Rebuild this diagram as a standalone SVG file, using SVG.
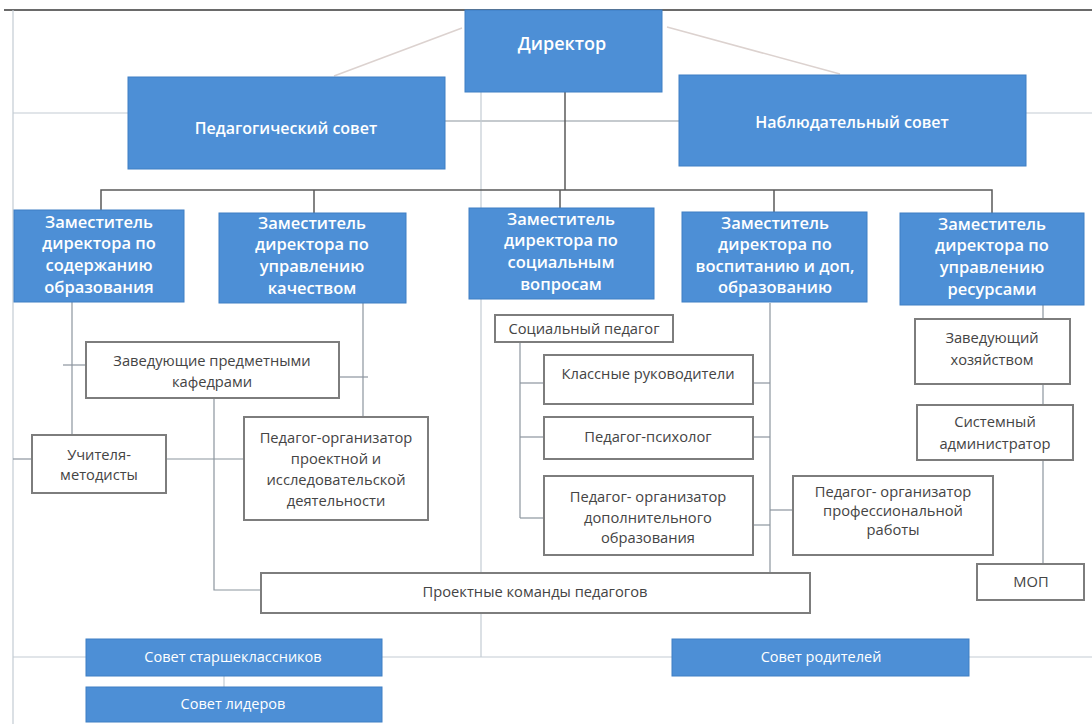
<svg xmlns="http://www.w3.org/2000/svg" width="1092" height="724" viewBox="0 0 1092 724">
<style>
.bg{fill:#ffffff}
.blue{fill:#4d8fd6;stroke:#3f7fc4;stroke-width:1}
.wbox{fill:#ffffff;stroke:#7d7d7d;stroke-width:2}
.tw{font-family:"Open Sans","Liberation Sans",sans-serif;fill:#ffffff;text-anchor:middle;font-weight:600}
.tn{font-family:"Open Sans","Liberation Sans",sans-serif;fill:#ffffff;text-anchor:middle;font-weight:400}
.tb{font-family:"Open Sans","Liberation Sans",sans-serif;fill:#444444;text-anchor:middle;font-size:14.7px}
.dk{stroke:#5a5a5a;stroke-width:1.5;fill:none}
.md{stroke:#8c959e;stroke-width:1.2;fill:none}
.lt{stroke:#c3cbd3;stroke-width:1.2;fill:none}
.pk{stroke:#dcd2cf;stroke-width:1.5;fill:none}
</style>
<rect class="bg" x="0" y="0" width="1092" height="724"/>
<g id="connectors">
<line x1="4" y1="10" x2="1092" y2="10" stroke="#6a6a6a" stroke-width="2"/>
<line class="lt" x1="13" y1="10" x2="13" y2="724"/>
<line class="pk" x1="462" y1="28" x2="334" y2="76"/>
<line class="pk" x1="667" y1="27" x2="840" y2="74"/>
<line class="lt" x1="13" y1="113" x2="128" y2="113"/>
<line class="md" x1="445" y1="121" x2="679" y2="121"/>
<line class="lt" x1="1026" y1="113" x2="1092" y2="113"/>
<line class="dk" x1="565" y1="92" x2="565" y2="190"/>
<line class="lt" x1="481" y1="92" x2="481" y2="657"/>
<polyline class="dk" points="101,210 101,190 992,190 992,213"/>
<line class="dk" x1="314" y1="190" x2="314" y2="213"/>
<line class="dk" x1="560" y1="190" x2="560" y2="208"/>
<line class="dk" x1="774" y1="190" x2="774" y2="212"/>
<line class="md" x1="72" y1="302" x2="72" y2="435"/>
<line class="md" x1="63" y1="365" x2="86" y2="365"/>
<line class="md" x1="363" y1="303" x2="363" y2="417"/>
<line class="md" x1="339" y1="377" x2="368" y2="377"/>
<polyline class="md" points="214,398 214,590 261,590"/>
<line class="md" x1="13" y1="459" x2="32" y2="459"/>
<line class="md" x1="166" y1="459" x2="244" y2="459"/>
<line class="md" x1="520" y1="342" x2="520" y2="518"/>
<line class="md" x1="520" y1="383" x2="544" y2="383"/>
<line class="md" x1="520" y1="437" x2="544" y2="437"/>
<line class="md" x1="520" y1="518" x2="544" y2="518"/>
<line class="md" x1="770" y1="303" x2="770" y2="573"/>
<line class="md" x1="753" y1="383" x2="770" y2="383"/>
<line class="md" x1="753" y1="437" x2="770" y2="437"/>
<line class="md" x1="753" y1="525" x2="770" y2="525"/>
<line class="md" x1="770" y1="510" x2="793" y2="510"/>
<line class="md" x1="1043" y1="305" x2="1043" y2="564"/>
<line class="lt" x1="13" y1="657" x2="1092" y2="657"/>
<line class="lt" x1="224" y1="676" x2="224" y2="687"/>
</g>
<g id="director">
<rect class="blue" x="465" y="10" width="197" height="82"/>
<text class="tw" x="562" y="50" font-size="18">Директор</text>
</g>
<g id="ped-sovet">
<rect class="blue" x="128" y="77" width="317" height="92"/>
<text class="tw" x="286" y="134" font-size="16">Педагогический совет</text>
</g>
<g id="nabl-sovet">
<rect class="blue" x="679" y="75" width="347" height="91"/>
<text class="tw" x="852" y="128" font-size="16">Наблюдательный совет</text>
</g>
<g id="dep1">
<rect class="blue" x="14" y="210" width="170" height="92"/>
<text class="tw" font-size="16.5"><tspan x="99" y="228">Заместитель</tspan><tspan x="99" y="249">директора по</tspan><tspan x="99" y="271">содержанию</tspan><tspan x="99" y="293">образования</tspan></text>
</g>
<g id="dep2">
<rect class="blue" x="219" y="213" width="187" height="90"/>
<text class="tw" font-size="16.5"><tspan x="312" y="229">Заместитель</tspan><tspan x="312" y="250">директора по</tspan><tspan x="312" y="272">управлению</tspan><tspan x="312" y="294">качеством</tspan></text>
</g>
<g id="dep3">
<rect class="blue" x="469" y="208" width="185" height="91"/>
<text class="tw" font-size="16.5"><tspan x="561" y="225">Заместитель</tspan><tspan x="561" y="246">директора по</tspan><tspan x="561" y="268">социальным</tspan><tspan x="561" y="290">вопросам</tspan></text>
</g>
<g id="dep4">
<rect class="blue" x="682" y="212" width="185" height="90"/>
<text class="tw" font-size="16.5"><tspan x="775" y="229">Заместитель</tspan><tspan x="775" y="250">директора по</tspan><tspan x="775" y="272">воспитанию и доп,</tspan><tspan x="775" y="293">образованию</tspan></text>
</g>
<g id="dep5">
<rect class="blue" x="900" y="213" width="184" height="92"/>
<text class="tw" font-size="16.5"><tspan x="992" y="230">Заместитель</tspan><tspan x="992" y="251">директора по</tspan><tspan x="992" y="273">управлению</tspan><tspan x="992" y="295">ресурсами</tspan></text>
</g>
<g id="zav-kafedr">
<rect class="wbox" x="86" y="342" width="253" height="56"/>
<text class="tb"><tspan x="212" y="366">Заведующие предметными</tspan><tspan x="212" y="387">кафедрами</tspan></text>
</g>
<g id="uchitelya">
<rect class="wbox" x="32" y="435" width="134" height="58"/>
<text class="tb"><tspan x="99" y="460">Учителя-</tspan><tspan x="99" y="480">методисты</tspan></text>
</g>
<g id="ped-org-proekt">
<rect class="wbox" x="244" y="417" width="184" height="103"/>
<text class="tb"><tspan x="336" y="443">Педагог-организатор</tspan><tspan x="336" y="464">проектной и</tspan><tspan x="336" y="485">исследовательской</tspan><tspan x="336" y="506">деятельности</tspan></text>
</g>
<g id="soc-ped">
<rect class="wbox" x="495" y="315" width="178" height="27"/>
<text class="tb" x="584" y="334">Социальный педагог</text>
</g>
<g id="klass-ruk">
<rect class="wbox" x="544" y="355" width="209" height="49"/>
<text class="tb" x="648" y="379">Классные руководители</text>
</g>
<g id="ped-psih">
<rect class="wbox" x="544" y="417" width="209" height="42"/>
<text class="tb" x="648" y="442">Педагог-психолог</text>
</g>
<g id="ped-org-dop">
<rect class="wbox" x="544" y="476" width="209" height="79"/>
<text class="tb"><tspan x="648" y="502">Педагог- организатор</tspan><tspan x="648" y="523">дополнительного</tspan><tspan x="648" y="543">образования</tspan></text>
</g>
<g id="ped-org-prof">
<rect class="wbox" x="793" y="476" width="200" height="79"/>
<text class="tb"><tspan x="893" y="497">Педагог- организатор</tspan><tspan x="893" y="516">профессиональной</tspan><tspan x="893" y="535">работы</tspan></text>
</g>
<g id="zav-hoz">
<rect class="wbox" x="915" y="319" width="155" height="65"/>
<text class="tb"><tspan x="992" y="343">Заведующий</tspan><tspan x="992" y="365">хозяйством</tspan></text>
</g>
<g id="sys-adm">
<rect class="wbox" x="917" y="405" width="156" height="55"/>
<text class="tb"><tspan x="995" y="427">Системный</tspan><tspan x="995" y="449">администратор</tspan></text>
</g>
<g id="mop">
<rect class="wbox" x="977" y="564" width="107" height="36"/>
<text class="tb" x="1031" y="587">МОП</text>
</g>
<g id="proekt-komandy">
<rect class="wbox" x="261" y="573" width="549" height="40"/>
<text class="tb" x="535" y="597">Проектные команды педагогов</text>
</g>
<g id="sovet-starsh">
<rect class="blue" x="86" y="639" width="296" height="37"/>
<text class="tn" font-size="14.5" x="233" y="662">Совет старшеклассников</text>
</g>
<g id="sovet-lider">
<rect class="blue" x="86" y="687" width="296" height="35"/>
<text class="tn" font-size="14.5" x="233" y="709">Совет лидеров</text>
</g>
<g id="sovet-rodit">
<rect class="blue" x="672" y="639" width="297" height="37"/>
<text class="tn" font-size="14.5" x="821" y="662">Совет родителей</text>
</g>
</svg>
